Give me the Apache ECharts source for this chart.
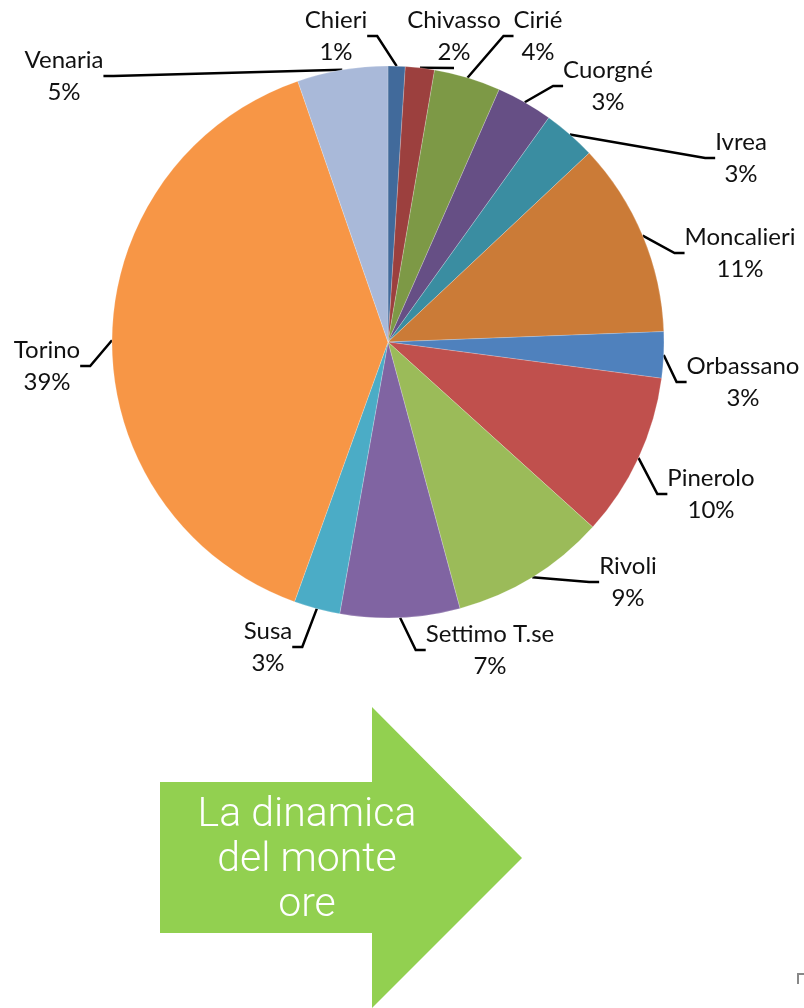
<!DOCTYPE html>
<html>
<head>
<meta charset="utf-8">
<script src="https://cdn.jsdelivr.net/npm/echarts@6/dist/echarts.min.js"></script>
<style>
    html, body { margin: 0; padding: 0; background: #fff; }
    #main { width: 804px; height: 1008px; }
</style>
</head>
<body>
<div id="main"></div>
<script>
var comuni = ['Chieri', 'Chivasso', 'Cirié', 'Cuorgné', 'Ivrea', 'Moncalieri', 'Orbassano',
    'Pinerolo', 'Rivoli', 'Settimo T.se', 'Susa', 'Torino', 'Venaria'];
var quote = [1.0, 1.7, 3.9, 3.3, 3.1, 11.4, 2.7, 9.6, 9.1, 7.0, 2.7, 39.2, 5.3];
var colori = ['#416A9B', '#9C403E', '#7D9946', '#664F85', '#3A8DA1', '#CB7B37', '#4F81BD',
    '#C0504D', '#9BBB59', '#8064A2', '#4BACC6', '#F79646', '#A9B9D9'];
// label block centres (px)
var labelPos = [[336, 36], [454, 36], [538, 36], [608, 86], [741, 158], [740, 253], [743, 382],
    [711, 494], [628, 582], [490, 650], [268, 647], [47, 366], [64, 76]];

var pieData = [];
for (var i = 0; i < comuni.length; i++) {
    pieData.push({name: comuni[i], value: quote[i], itemStyle: {color: colori[i]}});
}

var myChart = echarts.init(document.getElementById('main'), null, {renderer: 'canvas'});
myChart.setOption({
    animation: false,
    series: [{
        type: 'pie',
        center: [388, 342],
        radius: 276,
        startAngle: 90,
        clockwise: true,
        avoidLabelOverlap: false,
        data: pieData,
        itemStyle: {borderColor: 'rgba(255,255,255,0.4)', borderWidth: 0.5},
        emphasis: {disabled: true},
        label: {
            show: true,
            formatter: function (p) {
                return p.name + '\n' + Math.round(p.percent) + '%';
            },
            fontFamily: 'Lato',
            fontSize: 24,
            lineHeight: 32,
            color: '#111',
            align: 'center',
            overflow: 'none'
        },
        labelLine: {
            show: true,
            length: 15,
            length2: 10,
            lineStyle: {color: '#000', width: 2.5}
        },
        labelLayout: function (params) {
            var p = labelPos[params.dataIndex];
            return {x: p[0], y: p[1], align: 'center', verticalAlign: 'middle'};
        }
    }],
    graphic: [
        {
            type: 'polygon',
            shape: {points: [[160, 782], [372, 782], [372, 707], [522, 858], [372, 1008], [372, 933], [160, 933]]},
            style: {fill: '#92D050'}
        },
        {
            type: 'text',
            x: 307,
            y: 861,
            style: {
                text: 'La dinamica\ndel monte\nore',
                fontFamily: 'Roboto',
                fontWeight: 300,
                fontSize: 41,
                lineHeight: 45,
                fill: '#fff',
                align: 'center',
                verticalAlign: 'middle'
            }
        },
        {
            type: 'polyline',
            shape: {points: [[798, 984], [798, 974], [804, 974]]},
            style: {stroke: '#888', lineWidth: 2, fill: null}
        }
    ]
});
</script>
</body>
</html>
